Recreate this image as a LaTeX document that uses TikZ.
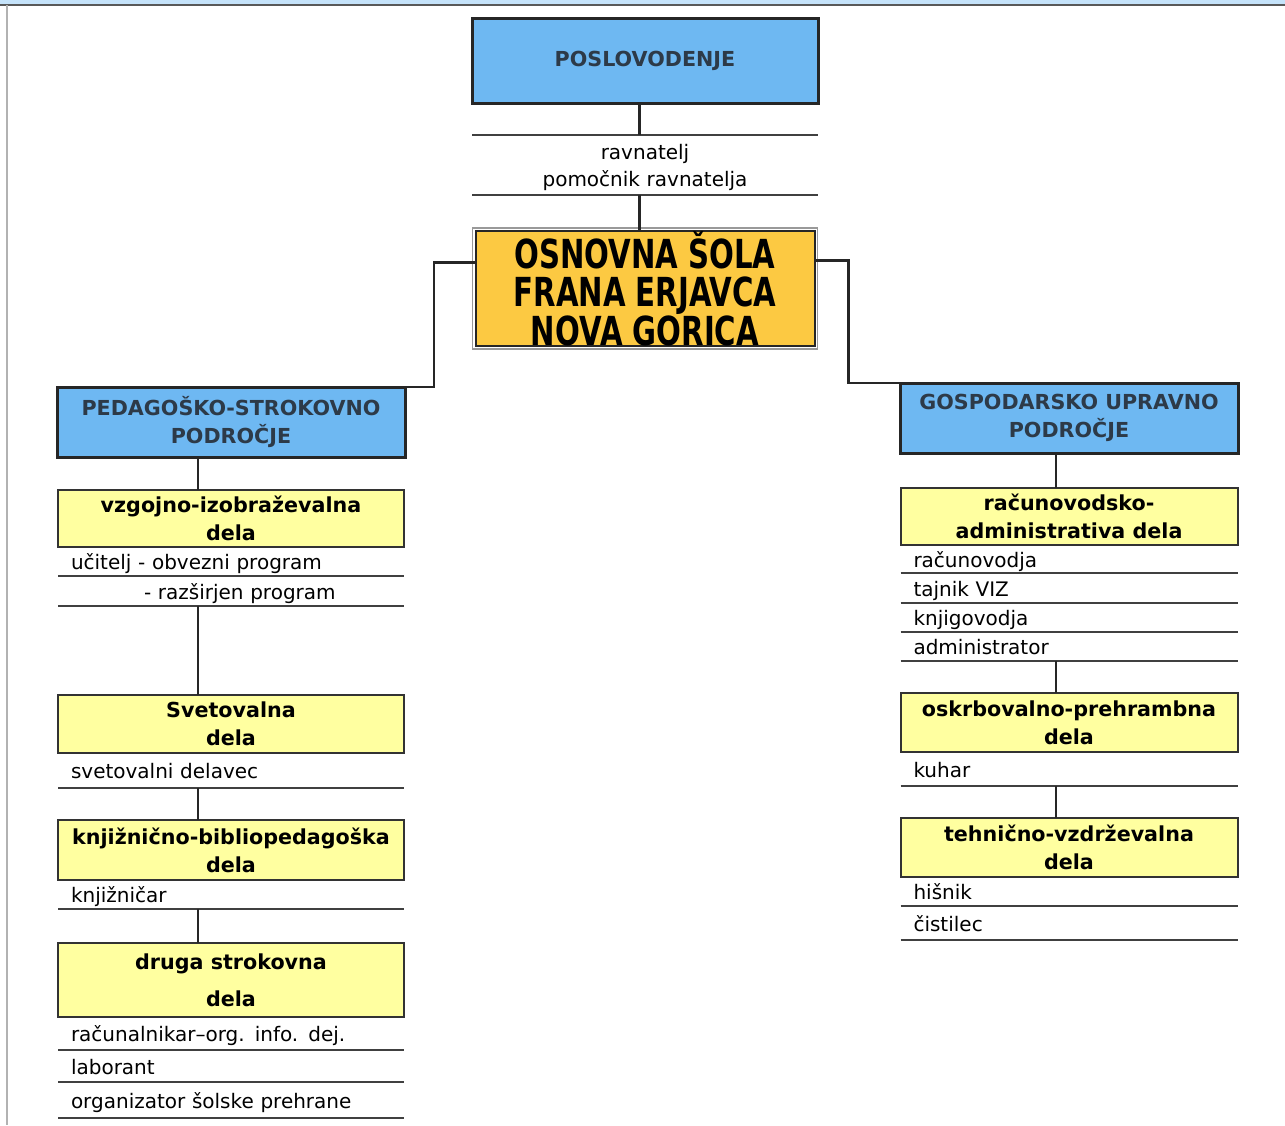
\documentclass[tikz,border=0pt]{standalone}
\usepackage{fontspec}
\setmainfont{DejaVu Sans}
\newfontfamily\schoolfont[FakeStretch=0.73]{DejaVu Sans}
\usetikzlibrary{positioning}
\definecolor{areablue}{RGB}{110,184,242}
\definecolor{schoolorange}{RGB}{252,201,66}
\definecolor{workyellow}{RGB}{255,255,160}
\definecolor{headtext}{RGB}{45,58,72}
\def\pix{0.75pt}
\tikzset{
    area/.style = {
        draw=black!85, line width=3*\pix, fill=areablue, text=headtext, align=center,
        inner sep=0pt, outer sep=0pt,
        font=\bfseries\fontsize{15.5}{21}\selectfont
    },
    school/.style = {
        draw=black!85, line width=2*\pix, fill=schoolorange, align=center,
        inner sep=0pt, outer sep=0pt,
        minimum width=339*\pix, minimum height=114*\pix,
        font=\schoolfont\bfseries\fontsize{30}{29}\selectfont
    },
    work/.style = {
        draw=black!80, line width=2*\pix, fill=workyellow, align=center,
        inner sep=0pt, outer sep=0pt,
        minimum width=#1*\pix, font=\bfseries\fontsize{15.5}{21}\selectfont
    },
    work/.default = 346,
    role/.style = {
        text width=#1, align=left, inner xsep=13*\pix, inner ysep=0pt, outer sep=0pt,
        text height=13.5pt, text depth=1.5pt, text=black,
        font=\fontsize{15}{20}\selectfont
    },
    role/.default = 240pt,
    conn/.style = {line width=2.5*\pix, black!85},
    rule/.style = {line width=1.5*\pix, black!75},
}

\begin{document}
\begin{tikzpicture}[x=0.75pt, y=-0.75pt]
    \useasboundingbox (0,0) rectangle (1285,1125);

    % Page frame
    \fill[areablue!40] (0,0) rectangle (1285,5);
    \draw[black!65, line width=1.5pt] (0,5) -- (1285,5);
    \draw[black!30, line width=1pt] (7,5) -- (7,1125);

    % Management and school
    \node[area, minimum width=346*\pix, minimum height=85*\pix] (vodstvo) at (645,60.5) {POSLOVODENJE};
    \node[role, align=center, text height=13.5pt, text depth=21.5pt, minimum height=60*\pix, below=24pt of vodstvo] (uprava) {ravnatelj\\pomočnik ravnatelja};
    \node[school, below=27pt of uprava] (sola) {OSNOVNA ŠOLA\\FRANA ERJAVCA\\NOVA GORICA};
    \draw[gray!80, line width=1.5*\pix] ([xshift=-2.3pt, yshift=-2.3pt]sola.south west) rectangle ([xshift=2.3pt, yshift=2.3pt]sola.north east);

    % The two areas
    \node[area, minimum width=348*\pix, minimum height=70*\pix] (pedag) at (231,422) {PEDAGOŠKO-STROKOVNO\\PODROČJE};
    \node[area, minimum width=338*\pix, minimum height=70*\pix] (gosp) at (1069,418) {GOSPODARSKO UPRAVNO\\PODROČJE};

    % Left column
    \node[work, minimum height=57*\pix, below=24.75pt of pedag] (vzgoja) {vzgojno-izobraževalna\\dela};
    \node[role, minimum height=29*\pix, below=0pt of vzgoja] (ucitelj) {učitelj - obvezni program};
    \node[role, minimum height=30*\pix, below=0pt of ucitelj] (razsirjen) {\hspace*{54.75pt}- razširjen program};
    \node[work, minimum height=58*\pix, below=66.75pt of razsirjen] (svetovanje) {Svetovalna\\dela};
    \node[role, minimum height=35*\pix, below=0pt of svetovanje] (svetovalec) {svetovalni delavec};
    \node[work, minimum height=60*\pix, below=24pt of svetovalec] (knjiznica) {knjižnično-bibliopedagoška\\dela};
    \node[role, minimum height=29*\pix, below=0pt of knjiznica] (knjiznicar) {knjižničar};
    \node[work, minimum height=74*\pix, below=25.5pt of knjiznicar] (drugo) {druga strokovna\\[7pt]dela};
    \node[role, minimum height=33*\pix, below=0pt of drugo] (racunalnikar) {računalnikar–org. info. dej.};
    \node[role, minimum height=32*\pix, below=0pt of racunalnikar] (laborant) {laborant};
    \node[role, minimum height=36*\pix, below=0pt of laborant] (prehrana) {organizator šolske prehrane};

    % Right column
    \node[work=337, minimum height=57*\pix, below=26.25pt of gosp] (racunovodstvo) {računovodsko-\\administrativa dela};
    \node[role=233.25pt, minimum height=28*\pix, below=0pt of racunovodstvo] (racunovodja) {računovodja};
    \node[role=233.25pt, minimum height=30*\pix, below=0pt of racunovodja] (tajnik) {tajnik VIZ};
    \node[role=233.25pt, minimum height=29*\pix, below=0pt of tajnik] (knjigovodja) {knjigovodja};
    \node[role=233.25pt, minimum height=29*\pix, below=0pt of knjigovodja] (administrator) {administrator};
    \node[work=337, minimum height=59*\pix, below=24pt of administrator] (kuhinja) {oskrbovalno-prehrambna\\dela};
    \node[role=233.25pt, minimum height=34*\pix, below=0pt of kuhinja] (kuhar) {kuhar};
    \node[work=337, minimum height=59*\pix, below=24pt of kuhar] (tehnika) {tehnično-vzdrževalna\\dela};
    \node[role=233.25pt, minimum height=29*\pix, below=0pt of tehnika] (hisnik) {hišnik};
    \node[role=233.25pt, minimum height=34*\pix, below=0pt of hisnik] (cistilec) {čistilec};

    % Underlines of the posts
    \draw[rule] (uprava.north west) -- (uprava.north east);
    \foreach \n in {uprava, ucitelj, razsirjen, svetovalec, knjiznicar, racunalnikar, laborant, prehrana,
                    racunovodja, tajnik, knjigovodja, administrator, kuhar, hisnik, cistilec}{
        \draw[rule] (\n.south west) -- (\n.south east);
    }

    % Connections
    \coordinate (lline) at (198,0);
    \coordinate (rline) at (1056,0);
    \draw[conn] ([xshift=-4pt]vodstvo.south) -- ([xshift=-4pt]uprava.north);
    \draw[conn] ([xshift=-4pt]uprava.south) -- ([xshift=-4pt]sola.north);
    \draw[conn] ([yshift=19.5pt]sola.west) -- ++(-31pt,0) |- (pedag.north east);
    \draw[conn] ([yshift=21pt]sola.east) -- ++(25.5pt,0) |- (gosp.north west);
    \foreach \a/\b in {pedag/vzgoja, razsirjen/svetovanje, svetovalec/knjiznica, knjiznicar/drugo}{
        \draw[conn] (\a.south -| lline) -- (\b.north -| lline);
    }
    \foreach \a/\b in {gosp/racunovodstvo, administrator/kuhinja, kuhar/tehnika}{
        \draw[conn] (\a.south -| rline) -- (\b.north -| rline);
    }
\end{tikzpicture}
\end{document}
